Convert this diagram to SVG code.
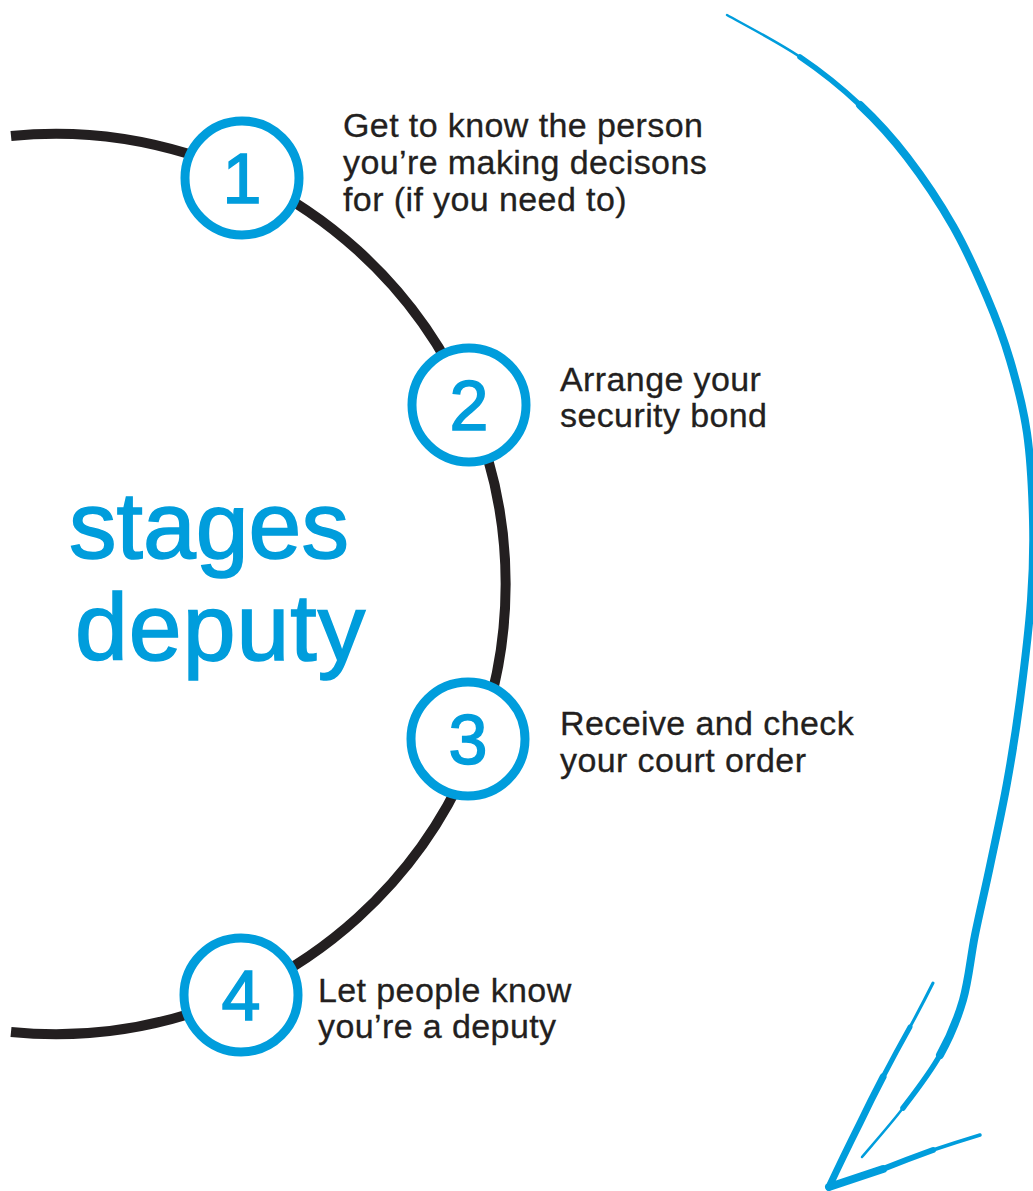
<svg xmlns="http://www.w3.org/2000/svg" width="1033" height="1191" viewBox="0 0 1033 1191">
<style>
.blue{fill:none;stroke:#009ddc;stroke-linecap:round;stroke-linejoin:round}
.ring{fill:#fff;stroke:#009ddc;stroke-width:9}
.num{font-family:"Liberation Sans",Arial,Helvetica,sans-serif;font-size:70px;fill:#009ddc;stroke:#009ddc;stroke-width:1.6;text-anchor:middle}
.lbl{font-family:"Liberation Sans",Arial,Helvetica,sans-serif;font-size:34px;fill:#231f20;stroke:#231f20;stroke-width:0.3;letter-spacing:0.4px}
.title{font-family:"Liberation Sans",Arial,Helvetica,sans-serif;font-size:95px;fill:#009ddc;stroke:#009ddc;stroke-width:1.6}
</style>
<rect width="1033" height="1191" fill="#fff"/>
<g id="connectors">
<path id="track" d="M 11 136 A 450.2 450.2 0 1 1 11 1032" fill="none" stroke="#231f20" stroke-width="10"/>
<g id="sweep-arrow">
<path class="blue" stroke-width="2.5" d="M 727 15 C 739.2 22 777.8 42 800 57"/>
<path class="blue" stroke-width="5.5" d="M 800 57 C 822.2 72 842.2 88.3 860 105"/>
<path class="blue" stroke-width="8" d="M 860 105 C 877.8 121.7 891.5 136.8 907 157 C 922.5 177.2 939.7 202.7 953 226 C 966.3 249.3 977.5 274.7 987 297 C 996.5 319.3 1003.3 337.3 1010 360 C 1016.7 382.7 1023.2 406.3 1027 433 C 1030.8 459.7 1032.3 492.2 1033 520 C 1033.7 547.8 1033.2 570 1031 600 C 1028.8 630 1024 669.5 1020 700 C 1016 730.5 1012 755.3 1007 783 C 1002 810.7 995.3 840.7 990 866 C 984.7 891.3 979.5 912.7 975 935 C 970.5 957.3 968.8 980 963 1000 C 957.2 1020 950 1037 940 1055"/>
<path class="blue" stroke-width="5.5" d="M 940 1055 C 930 1073 916 1091 903 1108"/>
<path class="blue" stroke-width="2.5" d="M 903 1108 C 890 1125 868.8 1148.8 862 1157"/>
<path class="blue" stroke-width="3" d="M 933 983 Q 922 1005 910 1027"/>
<path class="blue" stroke-width="5" d="M 910 1027 Q 896 1052 883 1077"/>
<path class="blue" stroke-width="7" d="M 883 1077 Q 871 1100 860 1123 Q 843 1157 829 1187"/>
<path class="blue" stroke-width="8" d="M 829 1187 Q 856 1178 883 1169"/>
<path class="blue" stroke-width="6" d="M 883 1169 Q 908 1159 933 1150"/>
<path class="blue" stroke-width="3.5" d="M 933 1150 Q 957 1142 980 1135"/>
</g>
</g>
<g id="title">
<text class="title" x="69" y="558">stages</text>
<text class="title" x="75" y="660" letter-spacing="1">deputy</text>
</g>
<g id="stage1">
<circle class="ring" cx="242" cy="178" r="57"/>
<text class="num" x="242" y="203">1</text>
<text class="lbl" x="343" y="137">Get to know the person</text>
<text class="lbl" x="343" y="174">you’re making decisons</text>
<text class="lbl" x="343" y="211">for (if you need to)</text>
</g>
<g id="stage2">
<circle class="ring" cx="469" cy="405" r="57"/>
<text class="num" x="469" y="430">2</text>
<text class="lbl" x="560" y="391">Arrange your</text>
<text class="lbl" x="560" y="427">security bond</text>
</g>
<g id="stage3">
<circle class="ring" cx="468" cy="739" r="57"/>
<text class="num" x="468" y="764">3</text>
<text class="lbl" x="560" y="735">Receive and check</text>
<text class="lbl" x="560" y="772">your court order</text>
</g>
<g id="stage4">
<circle class="ring" cx="241" cy="995" r="57"/>
<text class="num" x="241" y="1020">4</text>
<text class="lbl" x="318" y="1002">Let people know</text>
<text class="lbl" x="318" y="1038">you’re a deputy</text>
</g>
</svg>
